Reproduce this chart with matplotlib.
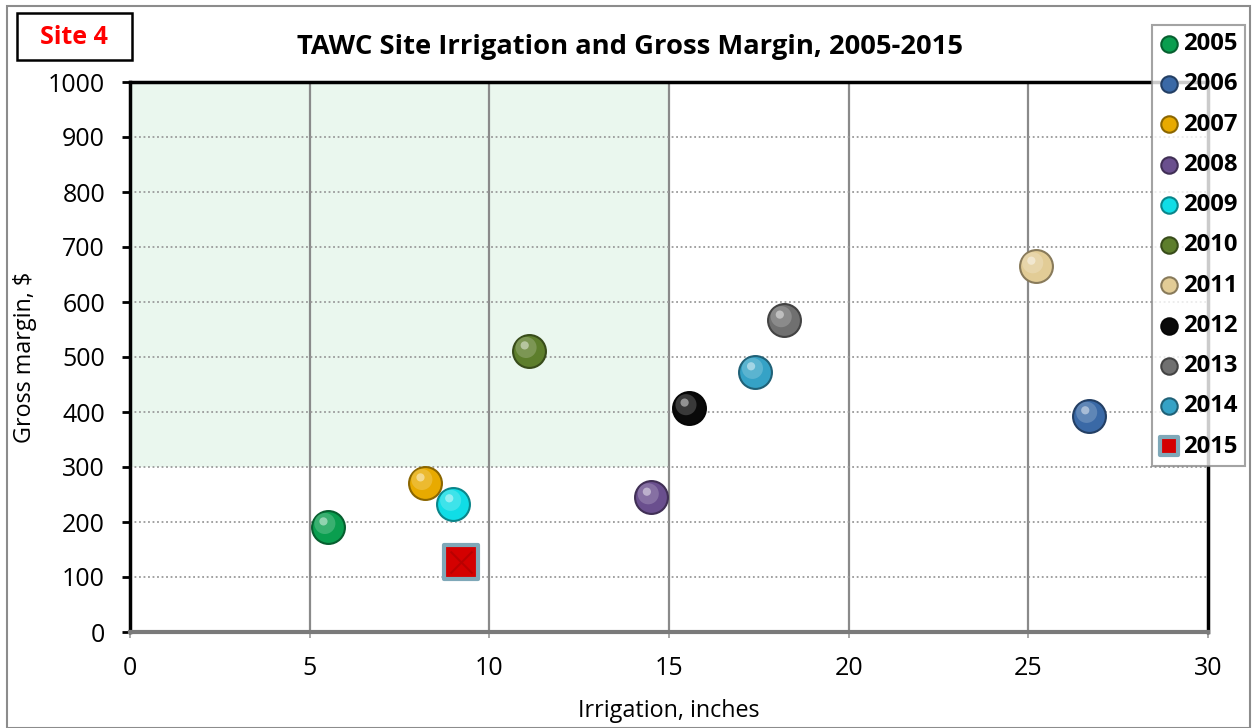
import matplotlib
matplotlib.use("Agg")
import matplotlib.pyplot as plt
from matplotlib.patches import Rectangle
from matplotlib.transforms import ScaledTranslation
import matplotlib.colors as mcolors

years = ["2005", "2006", "2007", "2008", "2009", "2010", "2011", "2012", "2013", "2014", "2015"]
irrigation = [5.5, 26.7, 8.2, 14.5, 9.0, 11.1, 25.2, 15.55, 18.2, 17.4, 9.2]
gross_margin = [191, 393, 271, 245, 233, 511, 665, 407, 567, 473, 127]
colors = ["#0A9E4F", "#3A69A6", "#E8AA00", "#6A4F8E", "#10DDE6", "#5D7E2C",
          "#E2CC96", "#0A0A0A", "#707070", "#35A2C6", "#D40000"]
markers = ["o"] * 10 + ["s"]

plt.rcParams['font.family'] = ['Open Sans', 'DejaVu Sans']

fig = plt.figure(figsize=(12.52, 7.28), dpi=100)
W, H = 1252, 728
ax = fig.add_axes([130 / W, 1 - 632 / H, (1208 - 130) / W, (632 - 82) / H])

# outer border
fig.patches.append(Rectangle((7 / W, 0), 1 - 9 / W, 1 - 6 / H, transform=fig.transFigure,
                             fill=False, edgecolor="#8c8c8c", lw=1.5, zorder=0))

ax.set_xlim(0, 30)
ax.set_ylim(0, 1000)

# target zone
ax.add_patch(Rectangle((0, 300), 15, 700, facecolor="#EAF7EE", edgecolor="none", zorder=0))

# grid
for xv in [5, 10, 15, 20, 25]:
    ax.axvline(xv, color="#8a8a8a", lw=1.6, zorder=1)
for yv in range(100, 1000, 100):
    ax.axhline(yv, color="#9a9a9a", lw=1.3, ls=(0, (1, 1.5)), zorder=1)

ax.set_xticks(range(0, 31, 5))
ax.set_yticks(range(0, 1001, 100))
ax.tick_params(axis="y", direction="out", length=6, width=2, color="black", labelsize=18, pad=12)
ax.tick_params(axis="x", direction="out", length=4.5, width=1.2, color="#999999", labelsize=18, pad=13)

for s in ["left", "top", "right"]:
    ax.spines[s].set_color("black")
    ax.spines[s].set_linewidth(2.5)
ax.spines["bottom"].set_color("#7a7a7a")
ax.spines["bottom"].set_linewidth(3)

ax.set_xlabel("Irrigation, inches", fontsize=16.8, labelpad=13)
ax.set_ylabel("Gross margin, $", fontsize=16.8, labelpad=8)

handles = []
for yr, xv, yv, c, m in zip(years, irrigation, gross_margin, colors, markers):
    rgb = mcolors.to_rgb(c)
    dark = tuple(v * 0.6 for v in rgb)
    light = tuple(v + (1 - v) * 0.35 for v in rgb)
    if m == "o":
        h = ax.scatter([xv], [yv], s=560, color=c, edgecolors=[dark], linewidths=1.5,
                       marker="o", zorder=5, label=yr)
        off = ScaledTranslation(-2 / 72, 2.5 / 72, fig.dpi_scale_trans)
        ax.scatter([xv], [yv], s=230, color=light, edgecolors="none", marker="o",
                   zorder=6, alpha=0.55, transform=ax.transData + off)
        off2 = ScaledTranslation(-3 / 72, 4 / 72, fig.dpi_scale_trans)
        ax.scatter([xv], [yv], s=35, color="white", edgecolors="none", marker="o",
                   zorder=7, alpha=0.45, transform=ax.transData + off2)
    else:
        h = ax.scatter([xv], [yv], s=620, color=c, edgecolors="#7FA8B8", linewidths=3,
                       marker="s", zorder=5, label=yr)
        ax.scatter([xv], [yv], s=250, color="#A00000", edgecolors="none", marker="x",
                   linewidths=1.5, zorder=6, alpha=0.5)
    handles.append(h)

fig.text(630 / W, 1 - 47 / H, "TAWC Site Irrigation and Gross Margin, 2005-2015",
         ha="center", va="center", fontsize=19.7, fontweight="bold")

fig.text(74 / W, 1 - 37 / H, "Site 4", ha="center", va="center", fontsize=18,
         fontweight="bold", color="#FF0000")
fig.patches.append(Rectangle((17 / W, 1 - 60 / H), 115 / W, 47 / H, transform=fig.transFigure,
                             fill=False, edgecolor="black", lw=1.8))

leg = fig.legend(handles=handles, labels=years, loc="upper left",
                 bbox_to_anchor=(1152 / W, 1 - 25 / H), markerscale=0.5,
                 prop={"weight": "bold", "size": 17.2}, frameon=True, fancybox=False,
                 edgecolor="#8c8c8c", handlelength=0.8, handletextpad=0.2,
                 labelspacing=0.68, borderpad=0.3, borderaxespad=0)
leg.get_frame().set_linewidth(1.5)

fig.savefig("out.png", dpi=100)
